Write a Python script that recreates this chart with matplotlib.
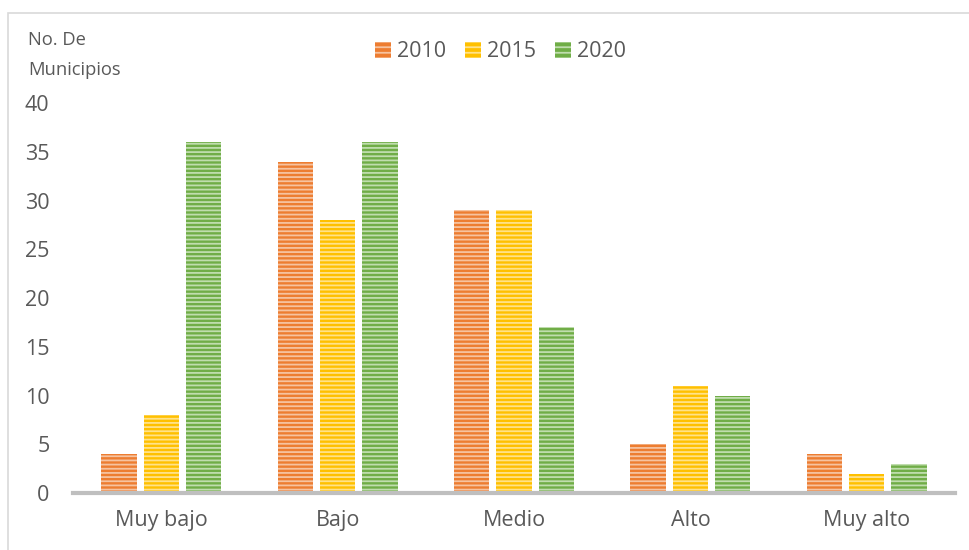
import matplotlib.pyplot as plt
import matplotlib.patches as mpatches
import numpy as np

# datos
categorias = ["Muy bajo", "Bajo", "Medio", "Alto", "Muy alto"]
anios = ["2010", "2015", "2020"]
v2010 = [4, 34, 29, 5, 4]
v2015 = [8, 28, 29, 11, 2]
v2020 = [36, 36, 17, 10, 3]

colores = ["#ED7D31", "#FFC000", "#70AD47"]
rayas = ["#F6C3A0", "#FFE28A", "#C0DDAE"]
gris = "#595959"

plt.rcParams["font.family"] = ["Open Sans", "DejaVu Sans"]
plt.rcParams["hatch.linewidth"] = 1.3

fig = plt.figure(figsize=(9.7, 5.5), dpi=100)
ax = fig.add_axes([0.0753, 0.1036, 0.9092, 0.7091])

# marco del grafico
fig.patches.append(mpatches.Rectangle((8 / 970, -0.01), 1.0, 1 - 13 / 550 + 0.01,
                                      transform=fig.transFigure, fill=False,
                                      edgecolor="#D9D9D9", linewidth=1.2))

x = np.arange(len(categorias))
ancho = 0.2
desp = [-0.24, 0, 0.24]
handles = []
for vals, c, r, d, lab in zip([v2010, v2015, v2020], colores, rayas, desp, anios):
    ax.bar(x + d, vals, ancho, color=c, linewidth=0, zorder=2)
    ax.bar(x + d, vals, ancho, facecolor="none", edgecolor=r, hatch="----",
           linewidth=0, zorder=3)
    handles.append(mpatches.Patch(facecolor=c, edgecolor=r, hatch="---", linewidth=0, label=lab))

ax.set_xlim(-0.5, 4.5)
ax.set_ylim(0, 40)
ax.set_yticks(range(0, 41, 5))
ax.set_xticks(x)
ax.set_xticklabels(categorias)
ax.tick_params(axis="both", length=0, labelsize=15.5, colors=gris)
ax.tick_params(axis="y", pad=17)
ax.tick_params(axis="x", pad=12)
for s in ["top", "right", "left"]:
    ax.spines[s].set_visible(False)
ax.spines["bottom"].set_color("#BFBFBF")
ax.spines["bottom"].set_linewidth(3)
ax.spines["bottom"].set_zorder(4)

fig.text(28 / 970, 1 - 55 / 550, "No. De\nMunicipios", fontsize=13.2, color=gris,
         va="center", ha="left", linespacing=1.8)

leg = fig.legend(handles=handles, loc="center", bbox_to_anchor=(0.516, 1 - 52 / 550),
                 ncol=3, frameon=False, fontsize=15.5, handlelength=0.75, handleheight=0.75,
                 handletextpad=0.25, columnspacing=0.9)
for t in leg.get_texts():
    t.set_color(gris)

fig.savefig("out.png", dpi=100)
